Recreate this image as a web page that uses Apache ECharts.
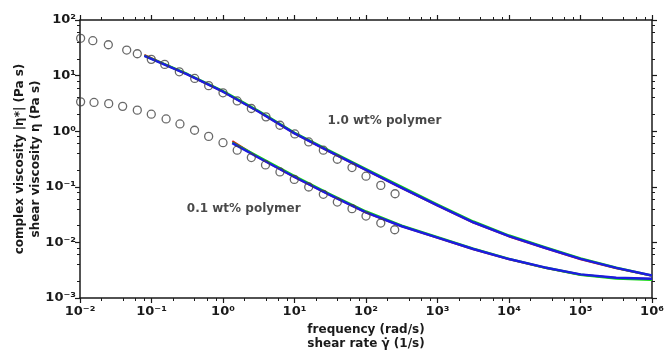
<!DOCTYPE html>
<html>
<head>
<meta charset="utf-8">
<script src="https://cdn.jsdelivr.net/npm/echarts@6/dist/echarts.min.js"></script>
<style>
  html, body { margin: 0; padding: 0; background: #fff; }
  #chart { width: 664px; height: 352px; }
</style>
</head>
<body>
<div id="chart"></div>
<script>
// measured points, 1.0 wt% polymer
const freqHi = [0.0102, 0.0151, 0.0249, 0.045, 0.0633, 0.0993, 0.153, 0.245, 0.402, 0.63, 1.0, 1.58, 2.49, 3.99, 6.26, 10.1, 15.8, 25.3, 39.7, 63.7, 100, 161, 255];
const etaHi = [46.8, 42.4, 35.9, 28.8, 24.7, 19.6, 15.9, 11.7, 8.9, 6.6, 4.9, 3.5, 2.56, 1.81, 1.28, 0.893, 0.641, 0.455, 0.313, 0.222, 0.155, 0.106, 0.075];

// measured points, 0.1 wt% polymer
const freqLo = [0.0102, 0.0157, 0.0252, 0.0395, 0.0633, 0.0993, 0.16, 0.25, 0.40, 0.63, 1.0, 1.58, 2.49, 3.93, 6.26, 9.93, 15.8, 25.3, 39.7, 63.7, 100, 161, 252];
const etaLo = [3.37, 3.29, 3.13, 2.80, 2.39, 2.02, 1.66, 1.35, 1.04, 0.806, 0.621, 0.455, 0.336, 0.247, 0.185, 0.136, 0.0991, 0.0733, 0.0532, 0.0405, 0.0298, 0.0223, 0.0169];

// model curves (red / green / blue)
const fitFreqHi = [0.0794, 0.316, 1, 3.16, 10, 31.6, 100, 316, 1000, 3162, 1e4, 31623, 1e5, 316228, 1e6];
const fitHiRed = [23.5, 10.5, 5.13, 2.24, 0.91, 0.42, 0.199, 0.095, 0.0457, 0.0227, 0.0128, 0.0079, 0.00498, 0.00343, 0.0025];
const fitHiGreen = [22.9, 10.7, 5.25, 2.30, 0.94, 0.437, 0.208, 0.0995, 0.0478, 0.0238, 0.0133, 0.0082, 0.00515, 0.0035, 0.00252];
const fitHiBlue = [22.7, 10.5, 5.13, 2.24, 0.912, 0.423, 0.201, 0.0959, 0.0462, 0.023, 0.01294, 0.008, 0.00505, 0.00348, 0.00254];

const fitFreqLo = [1.35, 3.16, 10, 31.6, 100, 316, 1000, 3162, 1e4, 31623, 1e5, 316228, 1e6];
const fitLoRed = [0.665, 0.335, 0.15, 0.0706, 0.0345, 0.0194, 0.0121, 0.00754, 0.00497, 0.0035, 0.00262, 0.00228, 0.00219];
const fitLoGreen = [0.625, 0.345, 0.156, 0.0735, 0.036, 0.0201, 0.0124, 0.0077, 0.00505, 0.00353, 0.00262, 0.00224, 0.00212];
const fitLoBlue = [0.608, 0.333, 0.15, 0.0708, 0.0347, 0.0195, 0.01216, 0.00759, 0.00501, 0.00355, 0.00266, 0.00231, 0.00222];

// text labels inside the plot
const noteText = ['1.0 wt% polymer', '0.1 wt% polymer'];
const noteX = [181, 1.95];
const noteY = [1.51, 0.04];

const minorSteps = [2, 4, 6, 8];

const FONT = 'DejaVu Sans';
const INK = '#1a1a1a';

const sup = { '-': '\u207b', '0': '\u2070', '1': '\u00b9', '2': '\u00b2', '3': '\u00b3', '4': '\u2074', '5': '\u2075', '6': '\u2076' };
function powLabel(v) {
  const e = String(Math.round(Math.log10(v)));
  return '10' + e.split('').map(c => sup[c]).join('');
}

function minorTicks(lo, hi) {
  const out = [];
  for (let d = lo; d < hi; d++) {
    minorSteps.forEach(k => out.push(d + Math.log10(k)));
  }
  return out;
}

const zip = (xs, ys) => xs.map((x, i) => [x, ys[i]]);

const chart = echarts.init(document.getElementById('chart'));

const majorAxis = (extra) => Object.assign({
  type: 'log',
  logBase: 10,
  axisLine: { show: true, onZero: false, lineStyle: { color: INK, width: 1.5 } },
  axisTick: { show: true, inside: false, length: 5, lineStyle: { color: INK, width: 1.2 } },
  splitLine: { show: false },
  axisLabel: { show: false }
}, extra);

const minorAxis = (extra, ticks) => Object.assign({
  type: 'value',
  axisLine: { show: false, onZero: false },
  axisTick: { show: true, inside: false, length: 3, customValues: ticks, lineStyle: { color: INK, width: 1 } },
  axisLabel: { show: false },
  splitLine: { show: false }
}, extra);

const labelStyle = { show: true, color: INK, fontFamily: FONT, fontWeight: 'bold', fontSize: 13, formatter: powLabel, hideOverlap: false };

const lineSeries = (xs, ys, color, w) => ({
  type: 'line',
  data: zip(xs, ys),
  xAxisIndex: 0, yAxisIndex: 0,
  showSymbol: false,
  smooth: false,
  lineStyle: { color: color, width: w, join: 'round' },
  silent: true
});

const dotSeries = (xs, ys) => ({
  type: 'scatter',
  data: zip(xs, ys),
  xAxisIndex: 0, yAxisIndex: 0,
  symbol: 'circle',
  symbolSize: 8,
  itemStyle: { color: 'rgba(255,255,255,0)', borderColor: '#444', borderWidth: 1.3 },
  z: 5,
  silent: true
});

chart.setOption({
  animation: false,
  backgroundColor: '#fff',
  grid: { left: 80, right: 12, top: 20, bottom: 54, containLabel: false, outerBoundsMode: 'none' },
  xAxis: [
    majorAxis({
      position: 'bottom', min: 0.01, max: 1e6,
      axisLabel: Object.assign({ margin: 7 }, labelStyle),
      name: 'frequency (rad/s)\nshear rate \u03b3\u0307 (1/s)',
      nameLocation: 'middle',
      nameGap: 25,
      nameMoveOverlap: false,
      nameTextStyle: { color: INK, fontFamily: FONT, fontWeight: 'bold', fontSize: 12, lineHeight: 14, verticalAlign: 'top' }
    }),
    majorAxis({ position: 'top', min: 0.01, max: 1e6 }),
    minorAxis({ position: 'bottom', min: -2, max: 6 }, minorTicks(-2, 6)),
    minorAxis({ position: 'top', min: -2, max: 6 }, minorTicks(-2, 6))
  ],
  yAxis: [
    majorAxis({
      position: 'left', min: 0.001, max: 100,
      axisLabel: Object.assign({ margin: 4 }, labelStyle),
      name: 'complex viscosity |\u03b7*| (Pa s)\nshear viscosity \u03b7 (Pa s)',
      nameLocation: 'middle',
      nameRotate: 90,
      nameGap: 36,
      nameMoveOverlap: false,
      nameTextStyle: { color: INK, fontFamily: FONT, fontWeight: 'bold', fontSize: 12, lineHeight: 16 }
    }),
    majorAxis({ position: 'right', min: 0.001, max: 100 }),
    minorAxis({ position: 'left', min: -3, max: 2 }, minorTicks(-3, 2)),
    minorAxis({ position: 'right', min: -3, max: 2 }, minorTicks(-3, 2))
  ],
  series: [
    lineSeries(fitFreqHi, fitHiRed, '#e01010', 2),
    lineSeries(fitFreqHi, fitHiGreen, '#10d810', 2.4),
    lineSeries(fitFreqHi, fitHiBlue, '#1c1ce0', 2.5),
    lineSeries(fitFreqLo, fitLoRed, '#e01010', 2),
    lineSeries(fitFreqLo, fitLoGreen, '#10d810', 2.4),
    lineSeries(fitFreqLo, fitLoBlue, '#1c1ce0', 2.5),
    dotSeries(freqHi, etaHi),
    dotSeries(freqLo, etaLo),
    {
      type: 'scatter',
      xAxisIndex: 0, yAxisIndex: 0,
      data: noteText.map((t, i) => ({ value: [noteX[i], noteY[i]], name: t })),
      symbolSize: 1,
      itemStyle: { color: 'rgba(0,0,0,0)' },
      label: {
        show: true, position: 'inside', formatter: p => p.name,
        color: INK, fontFamily: FONT, fontWeight: 'bold', fontSize: 12
      },
      silent: true,
      z: 6
    }
  ]
});
</script>
</body>
</html>
